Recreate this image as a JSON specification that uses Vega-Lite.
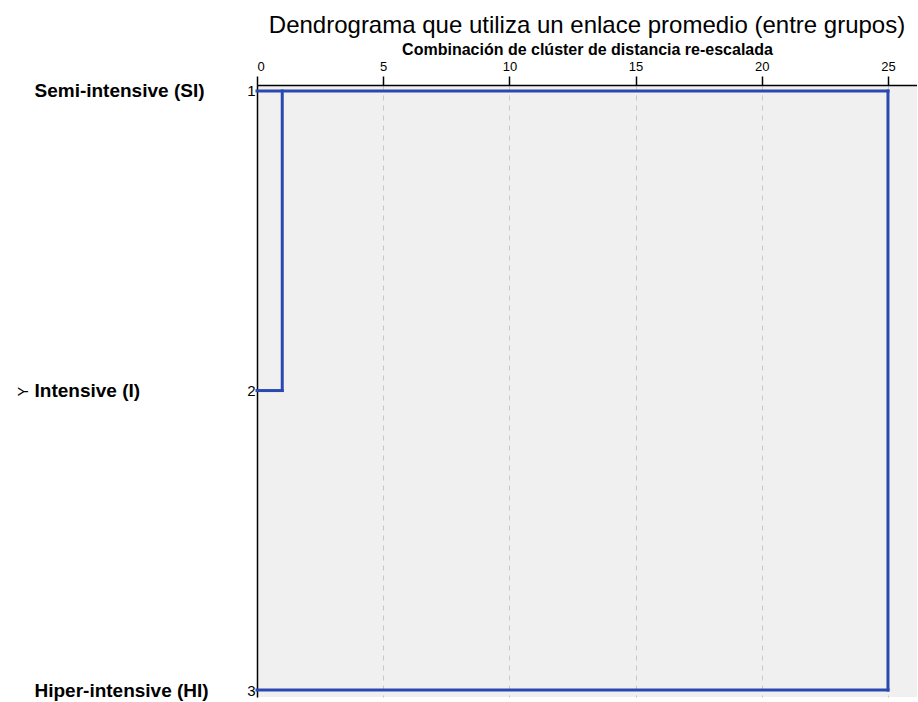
{
  "$schema": "https://vega.github.io/schema/vega-lite/v6.json",
  "width": 660,
  "height": 612,
  "padding": {"left": 16, "top": 14, "right": 0, "bottom": 5},
  "background": "white",
  "title": {
    "text": "Dendrograma que utiliza un enlace promedio (entre grupos)",
    "fontSize": 24,
    "font": "Liberation Sans",
    "fontWeight": "normal",
    "color": "black",
    "anchor": "middle",
    "offset": 3
  },
  "config": {
    "view": {"fill": "#f0f0f0", "stroke": null},
    "font": "Liberation Sans"
  },
  "layer": [
    {
      "data": {
        "values": [
          {"x": 0, "x2": 25, "y": 1, "y2": 1},
          {"x": 25, "x2": 25, "y": 1, "y2": 3},
          {"x": 0, "x2": 25, "y": 3, "y2": 3},
          {"x": 1, "x2": 1, "y": 1, "y2": 2},
          {"x": 0, "x2": 1, "y": 2, "y2": 2}
        ]
      },
      "mark": {"type": "rule", "color": "#2b48b2", "strokeWidth": 3, "strokeCap": "square"},
      "encoding": {
        "x": {
          "field": "x",
          "type": "quantitative",
          "scale": {"domain": [0, 26.15], "nice": false, "zero": false},
          "axis": {
            "orient": "top",
            "values": [0, 5, 10, 15, 20, 25],
            "title": "Combinación de clúster de distancia re-escalada",
            "titleFontSize": 16,
            "titleFontWeight": "bold",
            "titleColor": "black",
            "titlePadding": 3,
            "labelFontSize": 13,
            "labelColor": "black",
            "labelPadding": 3,
            "ticks": true,
            "tickColor": "black",
            "tickSize": 9,
            "tickWidth": 1.5,
            "domainColor": "black",
            "domainWidth": 1.5,
            "grid": true,
            "gridColor": "#c8c8c8",
            "gridDash": [5, 5],
            "gridWidth": 1
          }
        },
        "x2": {"field": "x2"},
        "y": {
          "field": "y",
          "type": "quantitative",
          "scale": {"domain": [0.98, 3.023], "reverse": true, "nice": false, "zero": false},
          "axis": {
            "orient": "left",
            "values": [1, 2, 3],
            "labelExpr": "datum.value == 1 ? '1' : datum.value == 2 ? '2' : '3'",
            "labelOverlap": false,
            "title": null,
            "grid": false,
            "ticks": false,
            "labelPadding": 2,
            "labelFontSize": 15,
            "labelColor": "black",
            "domainColor": "black",
            "domainWidth": 1.5
          }
        },
        "y2": {"field": "y2"}
      }
    },
    {
      "data": {
        "values": [
          {"y": 1, "name": "Semi-intensive (SI)"},
          {"y": 2, "name": "Intensive (I)"},
          {"y": 3, "name": "Hiper-intensive (HI)"}
        ]
      },
      "mark": {"type": "point", "opacity": 0},
      "encoding": {
        "y": {
          "field": "y",
          "type": "quantitative",
          "scale": {"domain": [0.98, 3.023], "reverse": true, "nice": false, "zero": false},
          "axis": {
            "orient": "left",
            "values": [1, 2, 3],
            "labelExpr": "datum.value == 1 ? 'Semi-intensive (SI)' : datum.value == 2 ? 'Intensive (I)' : 'Hiper-intensive (HI)'",
            "labelOverlap": false,
            "labelAlign": "left",
            "labelPadding": 223,
            "labelFontSize": 19,
            "labelFontWeight": "bold",
            "labelColor": "black",
            "ticks": false,
            "domain": false,
            "grid": false,
            "title": "Y",
            "titleFontSize": 14,
            "titleFontWeight": "normal",
            "titleColor": "black",
            "titlePadding": 27
          }
        }
      }
    }
  ],
  "resolve": {"scale": {"y": "independent"}, "axis": {"y": "independent"}}
}
